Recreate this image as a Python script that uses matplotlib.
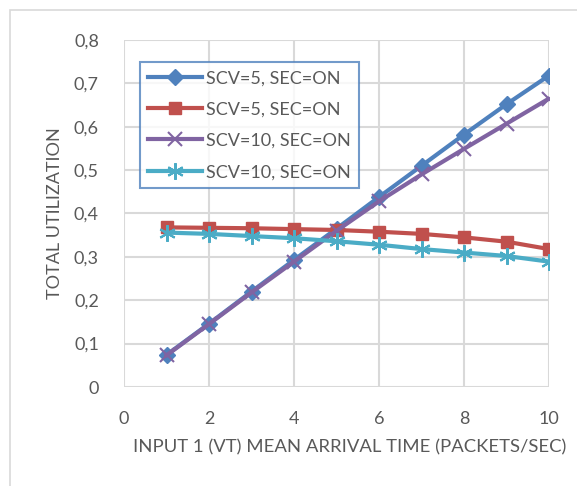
import matplotlib

matplotlib.use("Agg")

import matplotlib.pyplot as plt
from matplotlib.patches import Rectangle
from matplotlib.ticker import FuncFormatter, MultipleLocator

# Data
arrival = [1, 2, 3, 4, 5, 6, 7, 8, 9, 10]
scv5_diamond = [0.074, 0.146, 0.220, 0.293, 0.365, 0.438, 0.510, 0.582, 0.652, 0.718]
scv5_square = [0.368, 0.367, 0.366, 0.364, 0.362, 0.358, 0.353, 0.345, 0.335, 0.318]
scv10_cross = [0.073, 0.145, 0.218, 0.289, 0.360, 0.428, 0.490, 0.549, 0.607, 0.665]
scv10_star = [0.356, 0.353, 0.348, 0.343, 0.336, 0.328, 0.318, 0.310, 0.302, 0.289]

labels = ["SCV=5, SEC=ON", "SCV=5, SEC=ON", "SCV=10, SEC=ON", "SCV=10, SEC=ON"]
colors = ["#4F81BD", "#C0504D", "#8064A2", "#4BACC6"]

plt.rcParams["font.family"] = ["Lato", "DejaVu Sans"]
TEXT = "#595959"

fig = plt.figure(figsize=(5.77, 4.86), dpi=100)
ax = fig.add_axes([124 / 577, 1 - 387 / 486, 425 / 577, 347 / 486])

# outer chart frame (clipped on right and bottom like the screenshot)
fig.patches.append(Rectangle((10 / 577, -0.1), 1.2, 1 - 10 / 486 + 0.1,
                             transform=fig.transFigure, fill=False,
                             edgecolor="#d9d9d9", linewidth=1.2))

ax.plot(arrival, scv5_diamond, color=colors[0], lw=3, marker="D", ms=8,
        label=labels[0])
ax.plot(arrival, scv5_square, color=colors[1], lw=3, marker="s", ms=9,
        label=labels[1])
ax.plot(arrival, scv10_cross, color=colors[2], lw=3, marker="x", ms=10,
        mew=1.5, label=labels[2])
ax.plot(arrival, scv10_star, color=colors[3], lw=3, marker=(6, 2, 0), ms=12,
        mew=1.5, label=labels[3])

ax.set_xlim(0, 10)
ax.set_ylim(0, 0.8)
ax.xaxis.set_major_locator(MultipleLocator(2))
ax.yaxis.set_major_locator(MultipleLocator(0.1))
ax.yaxis.set_major_formatter(
    FuncFormatter(lambda v, p: "0" if abs(v) < 1e-9 else f"{v:.1f}".replace(".", ",")))

ax.grid(True, color="#d9d9d9", lw=1.5)
ax.set_axisbelow(True)
for s in ax.spines.values():
    s.set_visible(False)
ax.tick_params(length=0, labelsize=13, labelcolor=TEXT)
ax.tick_params(axis="y", pad=18)
ax.tick_params(axis="x", pad=17)

ax.set_xlabel("INPUT 1 (VT) MEAN ARRIVAL TIME (PACKETS/SEC)", fontsize=13.3,
              color=TEXT)
ax.xaxis.set_label_coords(0.53, -0.15)
ax.set_ylabel("TOTAL UTILIZATION", fontsize=13, color=TEXT, labelpad=8)

leg = ax.legend(loc="upper left", bbox_to_anchor=(16 / 425, 325 / 347),
                borderaxespad=0, fontsize=13, frameon=True, fancybox=False,
                handlelength=3.0, handletextpad=0.2, borderpad=0.45,
                labelspacing=0.85)
leg.get_frame().set_edgecolor("#4F81BD")
leg.get_frame().set_linewidth(1.5)
for t in leg.get_texts():
    t.set_color(TEXT)

fig.savefig("out.png", dpi=100)
